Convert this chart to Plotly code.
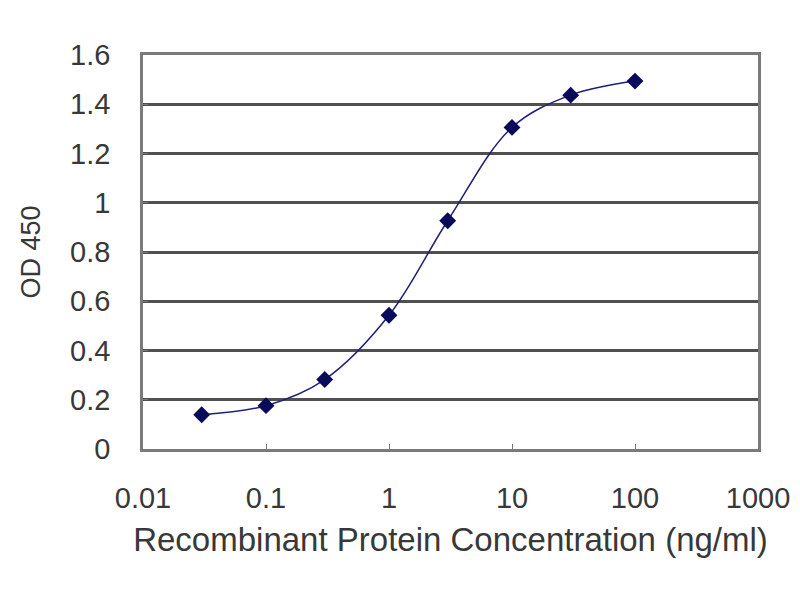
import plotly.graph_objects as go

# ELISA standard curve
conc_ng_ml = [0.03, 0.1, 0.3, 1, 3, 10, 30, 100]
od_450 = [0.139, 0.176, 0.282, 0.543, 0.927, 1.306, 1.437, 1.494]

x_tick_vals = [0.01, 0.1, 1, 10, 100, 1000]
x_tick_text = ["0.01", "0.1", "1", "10", "100", "1000"]
y_tick_vals = [0, 0.2, 0.4, 0.6, 0.8, 1.0, 1.2, 1.4, 1.6]
y_tick_text = ["0", "0.2", "0.4", "0.6", "0.8", "1", "1.2", "1.4", "1.6"]

FONT = "Liberation Sans, Arial"
TXT = "#383838"

fig = go.Figure()
fig.add_trace(go.Scatter(
    x=conc_ng_ml, y=od_450,
    mode="lines+markers",
    line=dict(color="#20207a", width=1.5, shape="spline", smoothing=1.0),
    marker=dict(symbol="diamond", size=13, color="#0a0a5a"),
    showlegend=False,
))

fig.update_xaxes(
    type="log", range=[-2, 3],
    tickvals=x_tick_vals, ticktext=x_tick_text,
    showgrid=False, zeroline=False,
    showline=True, linecolor="#7a7a7a", linewidth=2.5, mirror=True,
    ticks="inside", ticklen=5, tickcolor="#7a7a7a",
    ticklabelstandoff=21,
    tickfont=dict(family=FONT, size=29, color=TXT),
    title=dict(text="Recombinant Protein Concentration (ng/ml)",
               font=dict(family=FONT, size=33, color=TXT),
               standoff=16),
)
fig.update_yaxes(
    range=[0, 1.6],
    tickvals=y_tick_vals, ticktext=y_tick_text,
    showgrid=True, gridcolor="#505050", gridwidth=2.5,
    zeroline=False,
    showline=True, linecolor="#7a7a7a", linewidth=2.5, mirror=True,
    ticks="inside", ticklen=5, tickcolor="#7a7a7a",
    ticklabelstandoff=24,
    tickfont=dict(family=FONT, size=29, color=TXT),
    title=dict(text="OD 450",
               font=dict(family=FONT, size=27, color=TXT),
               standoff=22),
)

fig.update_layout(
    width=800, height=600,
    margin=dict(l=135, r=50, t=47, b=159),
    plot_bgcolor="white", paper_bgcolor="white",
)

fig.write_html("out.html")
